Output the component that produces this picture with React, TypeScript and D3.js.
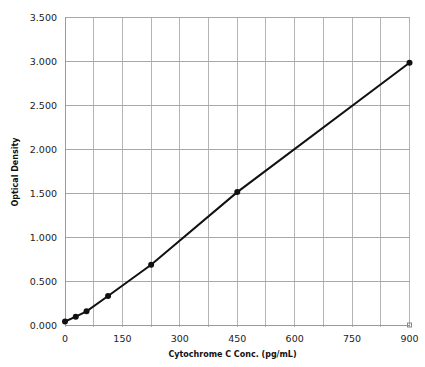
import React from "react";
import * as d3 from "d3";

const concentrations = [0, 28.125, 56.25, 112.5, 225, 450, 900];
const opticalDensity = [0.04, 0.095, 0.155, 0.33, 0.685, 1.51, 2.98];
const xTicks = [0, 150, 300, 450, 600, 750, 900];
const yTicks = [0, 0.5, 1, 1.5, 2, 2.5, 3, 3.5];
const xGrid = d3.range(0, 901, 75);
const xTitle = "Cytochrome C Conc. (pg/mL)";
const yTitle = "Optical Density";

const W = 425;
const H = 367;
const M = { left: 65, right: 409.5, top: 17, bottom: 325 };
const FONT = "'DejaVu Sans', Verdana, sans-serif";

export default function App() {
  const x = d3.scaleLinear().domain([0, 900]).range([M.left, M.right]);
  const y = d3.scaleLinear().domain([0, 3.5]).range([M.bottom, M.top]);
  const pts = concentrations.map((c, i) => [c, opticalDensity[i]] as [number, number]);
  const line = d3
    .line<[number, number]>()
    .x((d) => x(d[0]))
    .y((d) => y(d[1]));
  const fmt = d3.format(".3f");

  return (
    <svg
      width={W}
      height={H}
      style={{ position: "absolute", left: 0, top: 0, background: "#fff" }}
    >
      <rect x={0} y={0} width={W} height={H} fill="#fff" />
      <g shapeRendering="crispEdges">
        {xGrid.map((v) => (
          <line key={"gx" + v} x1={x(v)} x2={x(v)} y1={M.top} y2={M.bottom + 2} stroke="#b4b4b4" strokeWidth={1} />
        ))}
        {yTicks.map((v) => (
          <line key={"gy" + v} x1={M.left} x2={M.right} y1={y(v)} y2={y(v)} stroke="#a8a8a8" strokeWidth={1} />
        ))}
        <line x1={M.left} x2={M.left} y1={M.top} y2={M.bottom} stroke="#999" />
        <line x1={M.left} x2={M.right} y1={M.bottom} y2={M.bottom} stroke="#999" />
      </g>
      {yTicks.map((v) => (
        <text key={"ty" + v} x={57} y={y(v) + 3.5} textAnchor="end" fontFamily={FONT} fontSize={9.5} fill="#222">
          {fmt(v)}
        </text>
      ))}
      {xTicks.map((v) => (
        <text key={"tx" + v} x={x(v)} y={342} textAnchor="middle" fontFamily={FONT} fontSize={9.5} fill="#222">
          {v}
        </text>
      ))}
      <text x={232.5} y={357} textAnchor="middle" fontFamily={FONT} fontSize={8} fontWeight="bold" fill="#111">
        {xTitle}
      </text>
      <text
        transform={`translate(18,172) rotate(-90)`}
        textAnchor="middle"
        fontFamily={FONT}
        fontSize={8}
        fontWeight="bold"
        fill="#111"
      >
        {yTitle}
      </text>
      <path d={line(pts) || ""} fill="none" stroke="#111" strokeWidth={2} />
      {pts.map((d, i) => (
        <circle key={"p" + i} cx={x(d[0])} cy={y(d[1])} r={3} fill="#111" />
      ))}
      <rect x={M.right - 2} y={M.bottom - 2} width={4} height={4} fill="none" stroke="#888" strokeWidth={1} />
    </svg>
  );
}
